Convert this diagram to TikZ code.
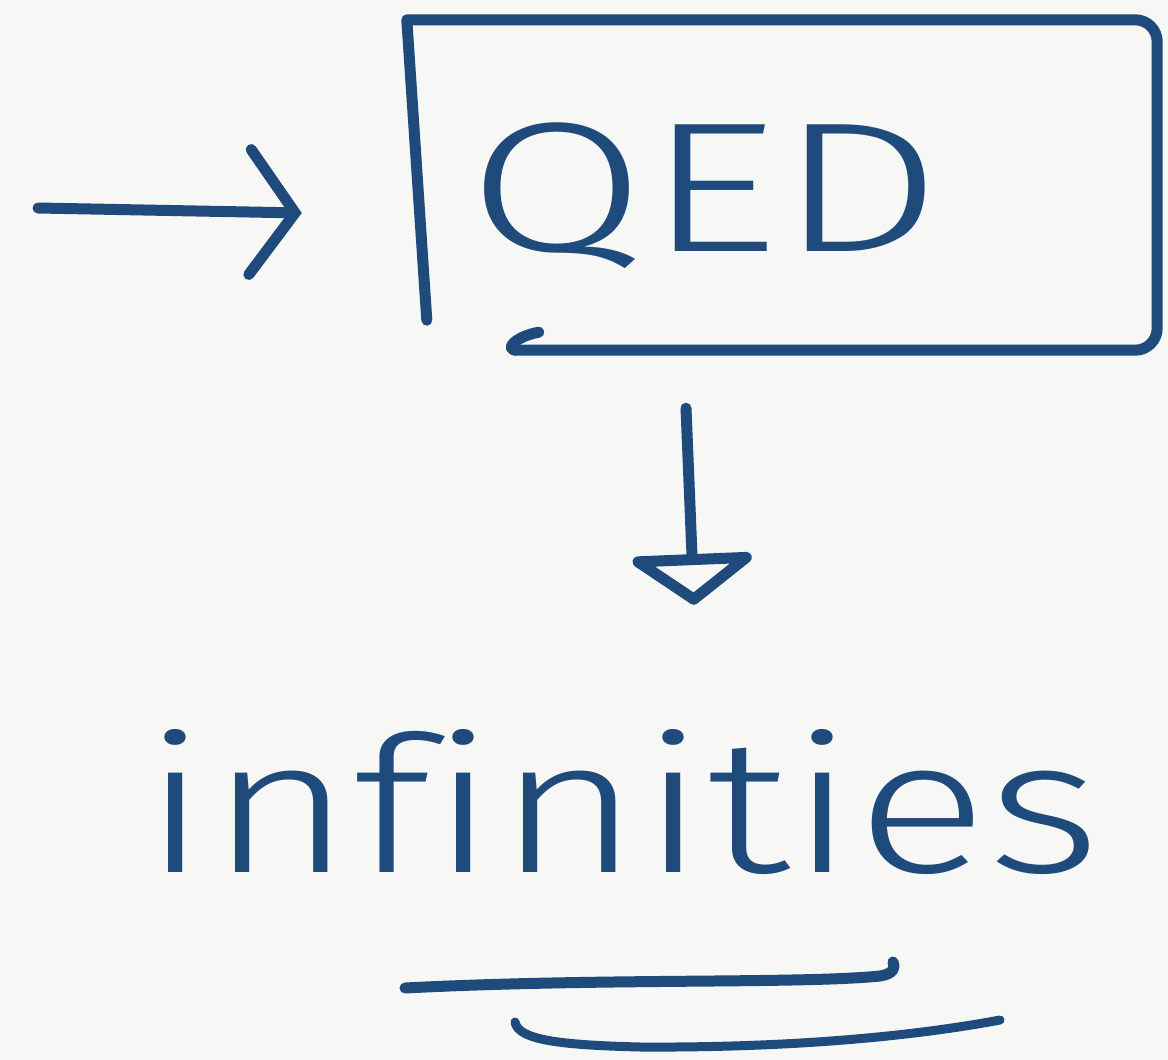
\documentclass[tikz,border=0pt]{standalone}
\usepackage{fontspec}
\newfontfamily\hand[Ligatures=NoCommon]{Fira Sans Light}
\usetikzlibrary{arrows.meta,calc}
\definecolor{ink}{HTML}{1E4A7C}
\definecolor{paper}{HTML}{F7F7F5}
\begin{document}
\begin{tikzpicture}[x=1pt,y=-1pt,
  inkline/.style={draw=ink,line width=11pt,line cap=round,line join=round},
  handtext/.style={text=ink,inner sep=0pt}]
\fill[paper] (0,0) rectangle (1168,1060);
\useasboundingbox (0,0) rectangle (1168,1060);
% box
\node[minimum width=750pt,minimum height=330pt,inner sep=0pt] (box) at (782,185) {};
\draw[inkline] ($(box.south west)+(20,-30)$) -- (box.north west)
  [rounded corners=22pt] -- (box.north east) -- (box.south east) -- ($(box.south west)+(108,0)$);
\draw[inkline] ($(box.south west)+(108,0)$) .. controls ($(box.south west)+(98,-2)$) and ($(box.south west)+(110,-14)$) .. ($(box.south west)+(132,-18)$);
\node[handtext,font=\hand\fontsize{185}{185}\selectfont,xscale=1.4] (qed) at (705,196) {QED};
% input arrow
\coordinate (in0) at (38,208);
\draw[inkline,-{Straight Barb[length=45pt,width=125pt,line cap=round]}] (in0) -- ($(box.west)+(-105,28)$);
% infinities
\node[handtext,font=\hand\fontsize{190}{190}\selectfont,xscale=1.29,anchor=base] (inf) at (622,872) {inf{}inities};
% down arrow
\draw[inkline,-{Triangle[open,length=52pt,width=140pt,line join=round]}] ($(box.south -| 686,0)+(0,58)$) -- ($(inf.north -| 694,0)+(0,-124)$);
% underlines
\draw[inkline] (405,988) .. controls (600,978) and (800,984) .. (880,976) .. controls (893,974) and (896,968) .. (893,962);
\draw[inkline,line width=9pt] (515,1022) .. controls (518,1040) and (560,1045) .. (640,1047) .. controls (800,1048) and (920,1035) .. (1000,1020);
\end{tikzpicture}
\end{document}
